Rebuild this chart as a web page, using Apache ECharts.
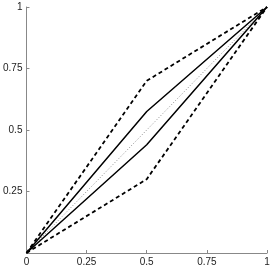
<!DOCTYPE html>
<html><head><meta charset="utf-8">
<script src="https://cdn.jsdelivr.net/npm/echarts@6/dist/echarts.min.js"></script>
<style>html,body{margin:0;padding:0;background:#fff}#c{width:273px;height:268px}</style>
</head><body><div id="c"></div>
<script>
var xPoints = [0, 0.5, 1];
var dashedUpper = [0, 0.7, 1];
var solidUpper = [0, 0.575, 1];
var dottedMid = [0, 0.5, 1];
var solidLower = [0, 0.44, 1];
var dashedLower = [0, 0.3, 1];
var xTicks = [0, 0.25, 0.5, 0.75, 1];
var yTicks = [0.25, 0.5, 0.75, 1];

function pts(ys){ return xPoints.map(function(x,i){ return [x, ys[i]]; }); }
var chart = echarts.init(document.getElementById('c'));
var axisCommon = {
  type:'value', min:0, max:1, interval:0.25,
  axisLine:{show:true, lineStyle:{color:'#888', width:1}},
  axisTick:{show:true, inside:true, length:3, lineStyle:{color:'#888'}},
  splitLine:{show:false},
  axisLabel:{color:'#222', fontSize:10, fontFamily:'Liberation Sans, Arial, sans-serif'}
};
chart.setOption({
  animation:false,
  grid:{left:22, right:6, top:7, bottom:15, containLabel:false},
  xAxis: Object.assign({}, axisCommon, {
    axisLabel: Object.assign({}, axisCommon.axisLabel, {margin:4,
      formatter:function(v){ return xTicks.indexOf(v)>=0 ? String(v) : ''; }})
  }),
  yAxis: Object.assign({}, axisCommon, {
    axisLabel: Object.assign({}, axisCommon.axisLabel, {margin:4,
      formatter:function(v){ return yTicks.indexOf(v)>=0 ? String(v) : ''; }})
  }),
  series:[
    {type:'line', data:pts(dottedMid), symbol:'none', lineStyle:{color:'#888', width:1, type:[1,2]}},
    {type:'line', data:pts(solidUpper), symbol:'none', lineStyle:{color:'#000', width:1.5}},
    {type:'line', data:pts(solidLower), symbol:'none', lineStyle:{color:'#000', width:1.5}},
    {type:'line', data:pts(dashedUpper), symbol:'none', lineStyle:{color:'#000', width:1.8, type:[4,3]}},
    {type:'line', data:pts(dashedLower), symbol:'none', lineStyle:{color:'#000', width:1.8, type:[4,3]}}
  ]
});
</script></body></html>
